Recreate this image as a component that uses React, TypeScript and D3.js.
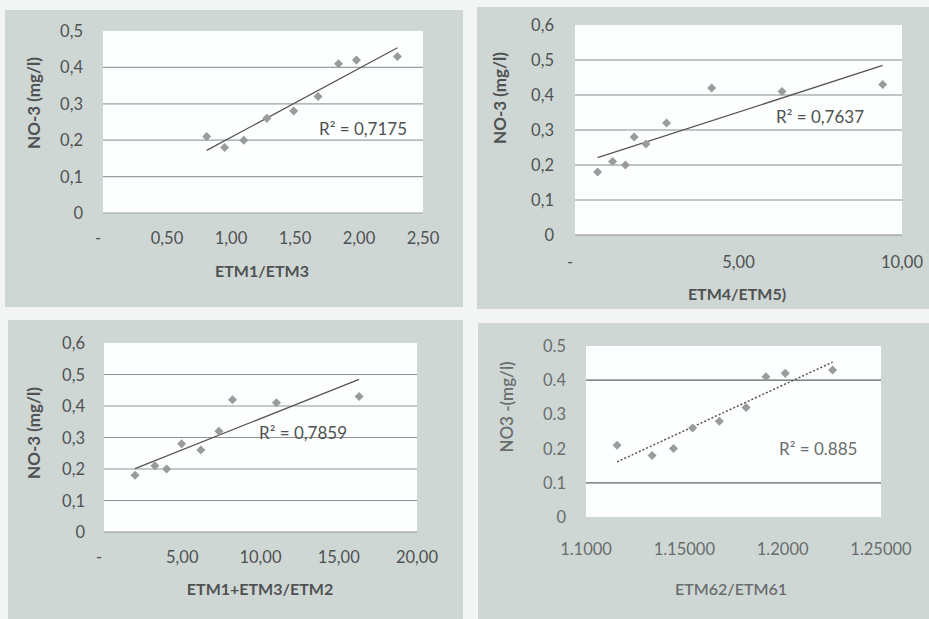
import React from "react";
import * as d3 from "d3";

// ---- data ----
const no3A = [0.21, 0.18, 0.2, 0.26, 0.28, 0.32, 0.41, 0.42, 0.43];
const no3B = [0.18, 0.21, 0.2, 0.28, 0.26, 0.32, 0.42, 0.41, 0.43];
const etm1Etm3 = [0.81, 0.95, 1.1, 1.28, 1.49, 1.68, 1.84, 1.98, 2.3];
const etm4Etm5 = [0.69, 1.15, 1.54, 1.81, 2.17, 2.8, 4.18, 6.33, 9.41];
const etm13Etm2 = [1.98, 3.25, 4.0, 4.96, 6.19, 7.34, 8.21, 11.02, 16.3];
const etm62Etm61 = [1.1158, 1.1336, 1.1445, 1.1542, 1.1678, 1.1814, 1.1915, 1.2013, 1.2254];

const xTicks1 = [0, 0.5, 1, 1.5, 2, 2.5];
const xTickLabels1 = ["-", "0,50", "1,00", "1,50", "2,00", "2,50"];
const yTicks05 = [0, 0.1, 0.2, 0.3, 0.4, 0.5];
const yTickLabels05c = ["0", "0,1", "0,2", "0,3", "0,4", "0,5"];
const yTicks06 = [0, 0.1, 0.2, 0.3, 0.4, 0.5, 0.6];
const yTickLabels06c = ["0", "0,1", "0,2", "0,3", "0,4", "0,5", "0,6"];
const xTicks2 = [0, 5, 10];
const xTickLabels2 = ["-", "5,00", "10,00"];
const xTicks3 = [0, 5, 10, 15, 20];
const xTickLabels3 = ["-", "5,00", "10,00", "15,00", "20,00"];
const xTicks4 = [1.1, 1.15, 1.2, 1.25];
const xTickLabels4 = ["1.1000", "1.15000", "1.2000", "1.25000"];
const yTickLabels05d = ["0", "0.1", "0.2", "0.3", "0.4", "0.5"];
const grid1 = [0, 0.1, 0.2, 0.3, 0.4];
const grid23 = [0, 0.1, 0.2, 0.3, 0.4, 0.5];
const grid4 = [0.1, 0.4];

const r2Labels = ["R² = 0,7175", "R² = 0,7637", "R² = 0,7859", "R² = 0.885"];
const xTitles = ["ETM1/ETM3", "ETM4/ETM5)", "ETM1+ETM3/ETM2", "ETM62/ETM61"];
const yTitles = ["NO-3 (mg/l)", "NO-3 (mg/l)", "NO-3 (mg/l)", "NO3 -(mg/l)"];

const FONT = "Lato, 'Open Sans', sans-serif";

function regression(xs: number[], ys: number[]) {
  const mx = d3.mean(xs)!;
  const my = d3.mean(ys)!;
  let sxy = 0, sxx = 0;
  xs.forEach((x, i) => {
    sxy += (x - mx) * (ys[i] - my);
    sxx += (x - mx) * (x - mx);
  });
  const slope = sxy / sxx;
  return { slope, intercept: my - slope * mx };
}

type PanelProps = {
  bg: [number, number, number, number];
  plot: [number, number, number, number];
  xDomain: [number, number];
  yDomain: [number, number];
  xs: number[];
  ys: number[];
  xTicks: number[];
  xLabels: string[];
  yTicks: number[];
  yLabels: string[];
  grid: number[];
  xLabelY: number;
  xTitle: string;
  xTitlePos: [number, number];
  yLabelRight: number;
  yTitle: string;
  yTitlePos: [number, number];
  r2: string;
  r2Pos: [number, number];
  dotted?: boolean;
  textColor: string;
  gridColor: string;
  titleWeight: number;
};

function Panel(p: PanelProps) {
  const [px0, py0, px1, py1] = p.plot;
  const x = d3.scaleLinear().domain(p.xDomain).range([px0, px1]);
  const y = d3.scaleLinear().domain(p.yDomain).range([py1, py0]);
  const reg = regression(p.xs, p.ys);
  const xmin = d3.min(p.xs)!;
  const xmax = d3.max(p.xs)!;
  const line = d3.line<number>().x((d) => x(d)).y((d) => y(reg.intercept + reg.slope * d));
  const diamond = d3.symbol().type(d3.symbolDiamond2).size(52)()!;
  const [bx0, by0, bx1, by1] = p.bg;
  return (
    <g>
      <rect x={bx0} y={by0} width={bx1 - bx0} height={by1 - by0} fill="#cfd7d5" />
      <rect x={px0} y={py0} width={px1 - px0} height={py1 - py0} fill="#fdfefe" />
      {p.grid.map((g, i) => (
        <line key={i} x1={px0} x2={px1} y1={y(g)} y2={y(g)} stroke={p.gridColor} strokeWidth={1.2} />
      ))}
      {p.yTicks.map((t, i) => (
        <text key={i} x={p.yLabelRight} y={y(t)} textAnchor="end" dominantBaseline="central"
          fontSize={16.5} fill={p.textColor} fontFamily={FONT}>{p.yLabels[i]}</text>
      ))}
      {p.xTicks.map((t, i) => (
        <text key={i} x={x(t) - (i === 0 && p.xLabels[0] === "-" ? 5 : 0)} y={p.xLabelY} textAnchor="middle"
          dominantBaseline="central" fontSize={16.5} fill={p.textColor} fontFamily={FONT}>{p.xLabels[i]}</text>
      ))}
      <path d={line([xmin, xmax]) || ""} fill="none" stroke="#555"
        strokeWidth={p.dotted ? 1.5 : 1.3} strokeDasharray={p.dotted ? "2,2" : undefined} />
      {p.xs.map((xv, i) => (
        <path key={i} d={diamond} transform={`translate(${x(xv)},${y(p.ys[i])})`} fill="#9a9c9c" />
      ))}
      <text x={p.r2Pos[0]} y={p.r2Pos[1]} dominantBaseline="central" fontSize={17}
        fill={p.textColor} fontFamily={FONT}>{p.r2}</text>
      <text x={p.xTitlePos[0]} y={p.xTitlePos[1]} textAnchor="middle" dominantBaseline="central"
        fontSize={16} fontWeight={p.titleWeight} fill={p.textColor} fontFamily={FONT}>{p.xTitle}</text>
      <text transform={`translate(${p.yTitlePos[0]},${p.yTitlePos[1]}) rotate(-90)`} textAnchor="middle"
        dominantBaseline="central" fontSize={17} fontWeight={p.titleWeight} fill={p.textColor}
        fontFamily={FONT}>{p.yTitle}</text>
    </g>
  );
}

export default function App() {
  return (
    <svg width={929} height={619} style={{ position: "absolute", left: 0, top: 0, background: "#f3f5f4" }}>
      <Panel bg={[5, 10, 463, 307]} plot={[103, 31, 423, 213]} xDomain={[0, 2.5]} yDomain={[0, 0.5]}
        xs={etm1Etm3} ys={no3A} xTicks={xTicks1} xLabels={xTickLabels1} yTicks={yTicks05}
        yLabels={yTickLabels05c} grid={grid1} xLabelY={238} xTitle={xTitles[0]}
        xTitlePos={[262, 270]} yLabelRight={83} yTitle={yTitles[0]} yTitlePos={[33, 103]}
        r2={r2Labels[0]} r2Pos={[319, 128]} textColor="#4f5252" gridColor="#9ba09f" titleWeight={700} />
      <Panel bg={[477, 7, 929, 309]} plot={[575, 25, 902, 235]} xDomain={[0, 10]} yDomain={[0, 0.6]}
        xs={etm4Etm5} ys={no3B} xTicks={xTicks2} xLabels={xTickLabels2} yTicks={yTicks06}
        yLabels={yTickLabels06c} grid={grid23} xLabelY={262} xTitle={xTitles[1]}
        xTitlePos={[737, 293]} yLabelRight={554} yTitle={yTitles[1]} yTitlePos={[499, 98]}
        r2={r2Labels[1]} r2Pos={[776, 116]} textColor="#4f5252" gridColor="#858a89" titleWeight={700} />
      <Panel bg={[8, 320, 463, 619]} plot={[104, 343, 417, 532]} xDomain={[0, 20]} yDomain={[0, 0.6]}
        xs={etm13Etm2} ys={no3B} xTicks={xTicks3} xLabels={xTickLabels3} yTicks={yTicks06}
        yLabels={yTickLabels06c} grid={grid23} xLabelY={557} xTitle={xTitles[2]}
        xTitlePos={[260, 588]} yLabelRight={85} yTitle={yTitles[2]} yTitlePos={[33, 433]}
        r2={r2Labels[2]} r2Pos={[259, 432]} textColor="#4f5252" gridColor="#8e9392" titleWeight={700} />
      <Panel bg={[478, 323, 929, 619]} plot={[586, 346, 881, 517]} xDomain={[1.1, 1.25]} yDomain={[0, 0.5]}
        xs={etm62Etm61} ys={no3A} xTicks={xTicks4} xLabels={xTickLabels4} yTicks={yTicks05}
        yLabels={yTickLabels05d} grid={grid4} xLabelY={549} xTitle={xTitles[3]}
        xTitlePos={[731, 588]} yLabelRight={566} yTitle={yTitles[3]} yTitlePos={[506, 407]}
        r2={r2Labels[3]} r2Pos={[779, 448]} dotted textColor="#6a6d6d" gridColor="#5f6362" titleWeight={600} />
    </svg>
  );
}
